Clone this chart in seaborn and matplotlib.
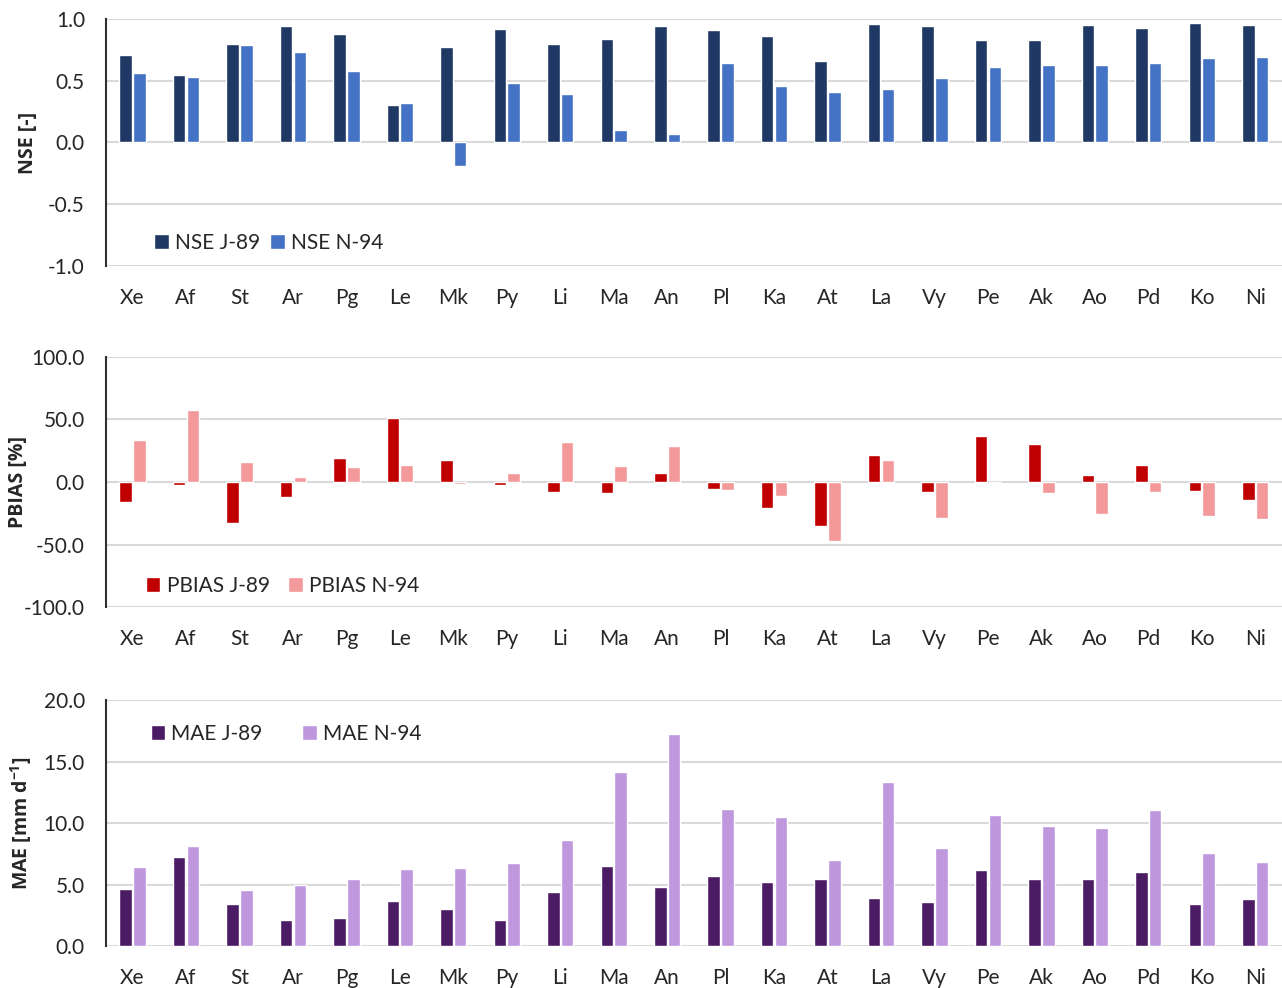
import numpy as np
import pandas as pd
import matplotlib
matplotlib.use("Agg")
import matplotlib.pyplot as plt
import seaborn as sns

# Station codes
stations = ["Xe", "Af", "St", "Ar", "Pg", "Le", "Mk", "Py", "Li", "Ma", "An",
            "Pl", "Ka", "At", "La", "Vy", "Pe", "Ak", "Ao", "Pd", "Ko", "Ni"]

# NSE values
nse_j89 = [0.71, 0.55, 0.80, 0.94, 0.88, 0.30, 0.77, 0.92, 0.80, 0.84, 0.94,
           0.91, 0.86, 0.66, 0.96, 0.94, 0.83, 0.83, 0.95, 0.93, 0.97, 0.95]
nse_n94 = [0.56, 0.53, 0.79, 0.73, 0.58, 0.32, -0.19, 0.48, 0.39, 0.10, 0.07,
           0.64, 0.46, 0.41, 0.43, 0.52, 0.61, 0.63, 0.63, 0.64, 0.68, 0.69]

# PBIAS values (%)
pbias_j89 = [-16.1, -2.7, -32.4, -12.0, 19.0, 50.9, 17.4, -2.4, -7.8, -8.6, 6.9,
             -5.3, -20.5, -35.1, 21.5, -8.2, 37.0, 30.3, 5.6, 13.8, -7.2, -14.4]
pbias_n94 = [33.5, 57.3, 16.1, 4.0, 11.8, 13.9, -1.6, 7.0, 32.1, 12.6, 28.7,
             -6.1, -10.9, -46.8, 17.3, -28.5, 0.0, -9.0, -25.8, -7.7, -27.1, -29.8]

# MAE values (mm/d)
mae_j89 = [4.63, 7.26, 3.41, 2.09, 2.30, 3.63, 2.98, 2.09, 4.42, 6.50, 4.77,
           5.69, 5.23, 5.47, 3.88, 3.55, 6.21, 5.42, 5.42, 6.04, 3.44, 3.85]
mae_n94 = [6.40, 8.13, 4.55, 4.99, 5.42, 6.23, 6.34, 6.75, 8.59, 14.17, 17.20,
           11.17, 10.49, 6.96, 13.33, 7.94, 10.62, 9.76, 9.57, 11.03, 7.59, 6.86]

sns.set_style("white")
plt.rcParams['font.family'] = ['Lato', 'DejaVu Sans']
plt.rcParams['mathtext.fontset'] = 'custom'
plt.rcParams['mathtext.rm'] = 'Open Sans:bold'
plt.rcParams['mathtext.bf'] = 'Open Sans:bold'
plt.rcParams['mathtext.it'] = 'Open Sans:bold'

FS = 15


def long_frame(a, b, name_a, name_b):
    df = pd.DataFrame({"station": stations * 2,
                       "value": list(a) + list(b),
                       "series": [name_a] * len(stations) + [name_b] * len(stations)})
    return df


panels = [
    dict(df=long_frame(nse_j89, nse_n94, "NSE J-89", "NSE N-94"),
         colors=["#1F3864", "#4472C4"], ylim=(-1.0, 1.0), step=0.5,
         ylabel="NSE [-]", ylab_x=-0.058, leg=(0.034, 0.095), colsp=0.5,
         rect=[0.0825, 0.7308, 0.9175, 0.25]),
    dict(df=long_frame(pbias_j89, pbias_n94, "PBIAS J-89", "PBIAS N-94"),
         colors=["#C00000", "#F4999A"], ylim=(-100, 100), step=50,
         ylabel="PBIAS [%]", ylab_x=-0.066, leg=(0.027, 0.085), colsp=0.9,
         rect=[0.0825, 0.3856, 0.9175, 0.2531]),
    dict(df=long_frame(mae_j89, mae_n94, "MAE J-89", "MAE N-94"),
         colors=["#4B1C63", "#BF97DD"], ylim=(0, 20), step=5,
         ylabel="MAE [mm d$^{-1}$]", ylab_x=-0.061, leg=(0.031, 0.862), colsp=1.9,
         rect=[0.0825, 0.0425, 0.9175, 0.249]),
]

fig = plt.figure(figsize=(12.82, 9.88), dpi=100)

for p in panels:
    ax = fig.add_axes(p["rect"])
    sns.barplot(data=p["df"], x="station", y="value", hue="series",
                palette=p["colors"], width=0.515, gap=0.09,
                saturation=1, ax=ax, zorder=3)
    lo, hi = p["ylim"]
    ax.set_ylim(lo, hi)
    ax.set_xlim(-0.5, len(stations) - 0.5)
    ax.set_yticks(np.arange(lo, hi + p["step"] / 2, p["step"]))
    ax.yaxis.set_major_formatter(matplotlib.ticker.FormatStrFormatter("%.1f"))
    ax.grid(axis="y", color="#D9D9D9", linewidth=1.5, zorder=0)
    ax.set_axisbelow(True)
    for s in ["top", "right", "bottom"]:
        ax.spines[s].set_visible(False)
    ax.spines["left"].set_color("#303030")
    ax.spines["left"].set_linewidth(1.5)
    ax.tick_params(axis="x", length=0, pad=16, labelsize=FS)
    ax.tick_params(axis="y", length=0, pad=15, labelsize=FS)
    ax.set_xlabel("")
    ax.set_ylabel(p["ylabel"], fontsize=14, fontweight="bold",
                  family=["Open Sans", "DejaVu Sans"])
    ax.yaxis.set_label_coords(p["ylab_x"], 0.5)
    leg = ax.legend(loc="center left", bbox_to_anchor=p["leg"], ncol=2,
                    frameon=False, fontsize=FS, handlelength=0.7,
                    handleheight=0.7, handletextpad=0.3,
                    columnspacing=p["colsp"], borderaxespad=0)

fig.savefig("out.png", dpi=100)
